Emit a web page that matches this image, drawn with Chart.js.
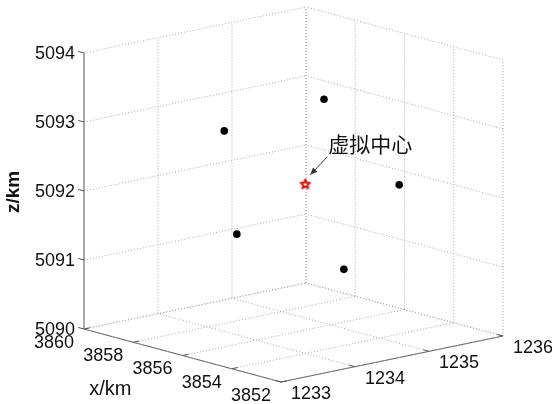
<!DOCTYPE html>
<html>
<head>
<meta charset="utf-8">
<script src="https://cdn.jsdelivr.net/npm/chart.js@4.4.1/dist/chart.umd.min.js"></script>
<style>
  html, body { margin: 0; padding: 0; background: #ffffff; }
  #wrap { width: 552px; height: 404px; }
</style>
</head>
<body>
<div id="wrap"><canvas id="c" width="552" height="404"></canvas></div>
<script>
// Axis ticks (km)
const xTicks = [3852, 3854, 3856, 3858, 3860];
const yTicks = [1233, 1234, 1235, 1236];
const zTicks = [5090, 5091, 5092, 5093, 5094];

// Station positions (km)
const stationX = [3858.0, 3854.4, 3856.8, 3853.6, 3857.2];
const stationY = [1234.23, 1234.38, 1234.00, 1235.13, 1235.58];
const stationZ = [5092.79, 5093.56, 5091.46, 5092.23, 5090.56];

// Virtual centre (mean of the stations)
const centerX = [3856.0];
const centerY = [1234.66];
const centerZ = [5092.12];

const centerLabel = '虚拟中心';
const xTitle = 'x/km';
const zTitle = 'z/km';

// Orthographic view: screen position of the front-bottom corner of the box
// and the screen vector spanned by each full axis range.
const VIEW = {
  origin: [281, 382],
  ex: [-197, -53],
  ey: [222, -46],
  ez: [0, -276]
};
const xLo = Math.min(...xTicks), xHi = Math.max(...xTicks);
const yLo = Math.min(...yTicks), yHi = Math.max(...yTicks);
const zLo = Math.min(...zTicks), zHi = Math.max(...zTicks);

function project(x, y, z) {
  const a = (x - xLo) / (xHi - xLo);
  const b = (y - yLo) / (yHi - yLo);
  const c = (z - zLo) / (zHi - zLo);
  return {
    x: VIEW.origin[0] + a * VIEW.ex[0] + b * VIEW.ey[0] + c * VIEW.ez[0],
    y: VIEW.origin[1] + a * VIEW.ex[1] + b * VIEW.ey[1] + c * VIEW.ez[1]
  };
}

const GRID = '#a8a8a8';
const AXIS = '#555555';

function segment(p, q, color, dash) {
  return {
    type: 'line',
    data: [project(...p), project(...q)],
    borderColor: color,
    borderWidth: 1,
    borderDash: dash,
    pointRadius: 0,
    fill: false,
    showLine: true,
    order: 5
  };
}

const datasets = [];
// floor z = zLo
xTicks.forEach(x => datasets.push(segment([x, yLo, zLo], [x, yHi, zLo], GRID, [1, 2])));
yTicks.forEach(y => datasets.push(segment([xLo, y, zLo], [xHi, y, zLo], GRID, [1, 2])));
// side wall x = xHi
yTicks.forEach(y => datasets.push(segment([xHi, y, zLo], [xHi, y, zHi], GRID, [1, 2])));
zTicks.forEach(z => datasets.push(segment([xHi, yLo, z], [xHi, yHi, z], GRID, [1, 2])));
// back wall y = yHi
xTicks.forEach(x => datasets.push(segment([x, yHi, zLo], [x, yHi, zHi], GRID, [1, 2])));
zTicks.forEach(z => datasets.push(segment([xLo, yHi, z], [xHi, yHi, z], GRID, [1, 2])));
// solid axes
datasets.push(segment([xHi, yLo, zLo], [xHi, yLo, zHi], AXIS, []));
datasets.push(segment([xLo, yLo, zLo], [xHi, yLo, zLo], AXIS, []));
datasets.push(segment([xLo, yLo, zLo], [xLo, yHi, zLo], AXIS, []));

// red pentagram marker
function pentagram(size, color) {
  const cv = document.createElement('canvas');
  cv.width = size; cv.height = size;
  const g = cv.getContext('2d');
  const cx = size / 2, cy = size / 2 + 0.5;
  const R = size / 2 - 1.2, r = R * 0.45;
  g.beginPath();
  for (let i = 0; i < 10; i++) {
    const ang = -Math.PI / 2 + i * Math.PI / 5;
    const rad = i % 2 === 0 ? R : r;
    const px = cx + rad * Math.cos(ang), py = cy + rad * Math.sin(ang);
    if (i === 0) g.moveTo(px, py); else g.lineTo(px, py);
  }
  g.closePath();
  g.strokeStyle = color;
  g.lineWidth = 2;
  g.lineJoin = 'round';
  g.stroke();
  return cv;
}

datasets.push({
  type: 'scatter',
  label: 'stations',
  data: stationX.map((x, i) => project(x, stationY[i], stationZ[i])),
  backgroundColor: '#000000',
  borderColor: '#000000',
  pointRadius: 3.8,
  pointBorderWidth: 0,
  order: 1
});
datasets.push({
  type: 'scatter',
  label: 'centre',
  data: centerX.map((x, i) => project(x, centerY[i], centerZ[i])),
  pointStyle: pentagram(12, '#e01010'),
  pointRadius: 6,
  order: 0
});

function unit(v) { const l = Math.hypot(v[0], v[1]); return [v[0] / l, v[1] / l]; }

const axisDecor = {
  id: 'axisDecor',
  afterDatasetsDraw(chart) {
    const ctx = chart.ctx;
    ctx.save();
    ctx.strokeStyle = AXIS;
    ctx.lineWidth = 1;
    const ux = unit(VIEW.ex), uy = unit(VIEW.ey);
    const tl = 6;
    // tick marks
    xTicks.forEach(x => {
      const p = project(x, yLo, zLo);
      ctx.beginPath(); ctx.moveTo(p.x, p.y); ctx.lineTo(p.x + uy[0] * tl, p.y + uy[1] * tl); ctx.stroke();
    });
    yTicks.forEach(y => {
      const p = project(xLo, y, zLo);
      ctx.beginPath(); ctx.moveTo(p.x, p.y); ctx.lineTo(p.x + ux[0] * tl, p.y + ux[1] * tl); ctx.stroke();
    });
    zTicks.forEach(z => {
      const p = project(xHi, yLo, z);
      ctx.beginPath(); ctx.moveTo(p.x, p.y); ctx.lineTo(p.x + ux[0] * tl, p.y + ux[1] * tl); ctx.stroke();
    });

    // tick labels
    ctx.fillStyle = '#111111';
    ctx.font = '18px "Liberation Sans", Arial, sans-serif';
    ctx.textBaseline = 'middle';
    ctx.textAlign = 'center';
    xTicks.forEach(x => {
      const p = project(x, yLo, zLo);
      ctx.fillText(String(x), p.x - 30, p.y + 14);
    });
    yTicks.forEach(y => {
      const p = project(xLo, y, zLo);
      ctx.fillText(String(y), p.x + 30, p.y + 12);
    });
    ctx.textAlign = 'right';
    zTicks.forEach(z => {
      const p = project(xHi, yLo, z);
      ctx.fillText(String(z), p.x - 9, p.y + 1);
    });

    // axis titles
    ctx.textAlign = 'center';
    ctx.font = '20px "Liberation Sans", Arial, sans-serif';
    const xMid = project(xLo + 0.8 * (xHi - xLo), yLo, zLo);
    ctx.fillText(xTitle, xMid.x - 13, xMid.y + 50);
    const zMid = project(xHi, yLo, (zLo + zHi) / 2);
    ctx.save();
    ctx.translate(zMid.x - 70, zMid.y + 1);
    ctx.rotate(-Math.PI / 2);
    ctx.font = 'bold 19px "Liberation Sans", Arial, sans-serif';
    ctx.fillText(zTitle, 0, 0);
    ctx.restore();

    // annotation with arrow pointing at the virtual centre
    const c = project(centerX[0], centerY[0], centerZ[0]);
    ctx.font = '21px "Noto Sans CJK SC", sans-serif';
    ctx.textAlign = 'left';
    ctx.fillStyle = '#111111';
    ctx.fillText(centerLabel, c.x + 23, c.y - 40);
    const tail = [c.x + 22, c.y - 27];
    const head = [c.x + 5, c.y - 9];
    ctx.strokeStyle = '#333333';
    ctx.beginPath(); ctx.moveTo(tail[0], tail[1]); ctx.lineTo(head[0], head[1]); ctx.stroke();
    const d = unit([head[0] - tail[0], head[1] - tail[1]]);
    const al = 7, aw = 3;
    ctx.fillStyle = '#333333';
    ctx.beginPath();
    ctx.moveTo(head[0], head[1]);
    ctx.lineTo(head[0] - d[0] * al - d[1] * aw, head[1] - d[1] * al + d[0] * aw);
    ctx.lineTo(head[0] - d[0] * al + d[1] * aw, head[1] - d[1] * al - d[0] * aw);
    ctx.closePath();
    ctx.fill();
    ctx.restore();
  }
};

new Chart(document.getElementById('c'), {
  type: 'scatter',
  data: { datasets },
  options: {
    responsive: false,
    animation: false,
    devicePixelRatio: 1,
    layout: { padding: 0, autoPadding: false },
    plugins: { legend: { display: false }, tooltip: { enabled: false } },
    scales: {
      x: { type: 'linear', min: 0, max: 552, display: false },
      y: { type: 'linear', min: 0, max: 404, reverse: true, display: false }
    }
  },
  plugins: [axisDecor]
});
</script>
</body>
</html>
